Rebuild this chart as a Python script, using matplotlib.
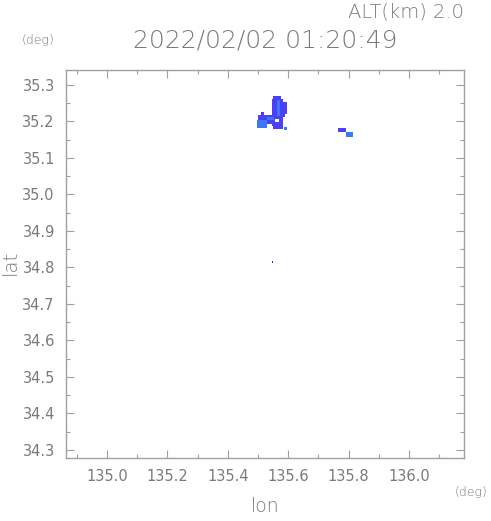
import numpy as np
import matplotlib
matplotlib.use("Agg")
import matplotlib.pyplot as plt
from matplotlib.colors import ListedColormap, BoundaryNorm
from matplotlib.ticker import MultipleLocator

# ---- data ----
title_time = "2022/02/02 01:20:49"
alt_label = "ALT(km) 2.0"
lon_ticks = [135.0, 135.2, 135.4, 135.6, 135.8, 136.0]
lat_ticks = [34.3, 34.4, 34.5, 34.6, 34.7, 34.8, 34.9, 35.0, 35.1, 35.2, 35.3]
lon_range = (134.864, 136.182)
lat_range = (34.278, 35.341)

# echo regions: lon0, lon1, lat0, lat1, level (0 = none, 1 = weak, 2 = stronger, 3 = single cell)
echo_lon0 = [135.548, 135.552, 135.583, 135.583, 135.500, 135.497, 135.548, 135.556, 135.565, 135.530, 135.588, 135.510, 135.548, 135.765, 135.790, 135.546]
echo_lon1 = [135.583, 135.578, 135.595, 135.590, 135.548, 135.532, 135.585, 135.570, 135.573, 135.555, 135.597, 135.520, 135.552, 135.790, 135.813, 135.549]
echo_lat0 = [35.212, 35.262, 35.222, 35.212, 35.193, 35.183, 35.180, 35.198, 35.215, 35.205, 35.176, 35.220, 35.180, 35.170, 35.156, 34.813]
echo_lat1 = [35.262, 35.268, 35.252, 35.222, 35.220, 35.205, 35.212, 35.207, 35.258, 35.214, 35.184, 35.226, 35.188, 35.182, 35.170, 34.818]
echo_level = [1, 1, 1, 1, 1, 2, 1, 0, 2, 2, 2, 1, 0, 1, 2, 3]

level_colors = ["#4a40fa", "#3c78fa", "#2020ff"]

# ---- grid ----
dlon, dlat = 0.0033, 0.0028
lon_edges = np.arange(lon_range[0], lon_range[1] + dlon, dlon)
lat_edges = np.arange(lat_range[0], lat_range[1] + dlat, dlat)
lon_c = 0.5 * (lon_edges[:-1] + lon_edges[1:])
lat_c = 0.5 * (lat_edges[:-1] + lat_edges[1:])
LON, LAT = np.meshgrid(lon_c, lat_c)
grid = np.zeros_like(LON)
for a, b, c, d, v in zip(echo_lon0, echo_lon1, echo_lat0, echo_lat1, echo_level):
    m = (LON >= a) & (LON <= b) & (LAT >= c) & (LAT <= d)
    if v == 3 and not m.any():
        i = np.argmin(np.abs(lat_c - 0.5 * (c + d)))
        j = np.argmin(np.abs(lon_c - 0.5 * (a + b)))
        m[i, j] = True
    grid[m] = v
data = np.ma.masked_where(grid == 0, grid)

fig = plt.figure(figsize=(4.91, 5.21), dpi=100)
ax = fig.add_axes([0.1344, 0.1209, 0.8106, 0.7447])
cmap = ListedColormap(level_colors)
norm = BoundaryNorm([0.5, 1.5, 2.5, 3.5], cmap.N)
ax.pcolormesh(lon_edges, lat_edges, data, cmap=cmap, norm=norm, shading="flat")

ax.set_xlim(*lon_range)
ax.set_ylim(*lat_range)
ax.set_xticks(lon_ticks)
ax.set_xticklabels([f"{v:.1f}" for v in lon_ticks])
ax.set_yticks(lat_ticks)
ax.set_yticklabels([f"{v:.1f}" for v in lat_ticks])
ax.xaxis.set_minor_locator(MultipleLocator(0.1))
ax.yaxis.set_minor_locator(MultipleLocator(0.05))

tcol = "#7a7a7a"
for s in ax.spines.values():
    s.set_color("#a0a0a0")
    s.set_linewidth(1.0)
ax.tick_params(which="both", direction="in", top=True, right=True, colors="#a0a0a0",
               labelcolor=tcol, labelsize=10.5)
ax.tick_params(which="major", length=6, width=0.8, pad=8)
ax.tick_params(which="minor", length=3, width=0.8)

fw = "light"
fig.text(0.945, 0.977, alt_label, ha="right", va="center", fontsize=14, color=tcol, fontweight=fw)
fig.text(0.54, 0.923, title_time, ha="center", va="center", fontsize=18, color=tcol, fontweight=fw)
fig.text(0.078, 0.923, "(deg)", ha="center", va="center", fontsize=9, color=tcol, fontweight=fw)
fig.text(0.96, 0.056, "(deg)", ha="center", va="center", fontsize=9, color=tcol, fontweight=fw)
fig.text(0.54, 0.027, "lon", ha="center", va="center", fontsize=13.5, color=tcol, fontweight=fw)
fig.text(0.02, 0.497, "lat", ha="center", va="center", fontsize=14, color=tcol, fontweight=fw, rotation=90)

fig.savefig("out.png", dpi=100)
